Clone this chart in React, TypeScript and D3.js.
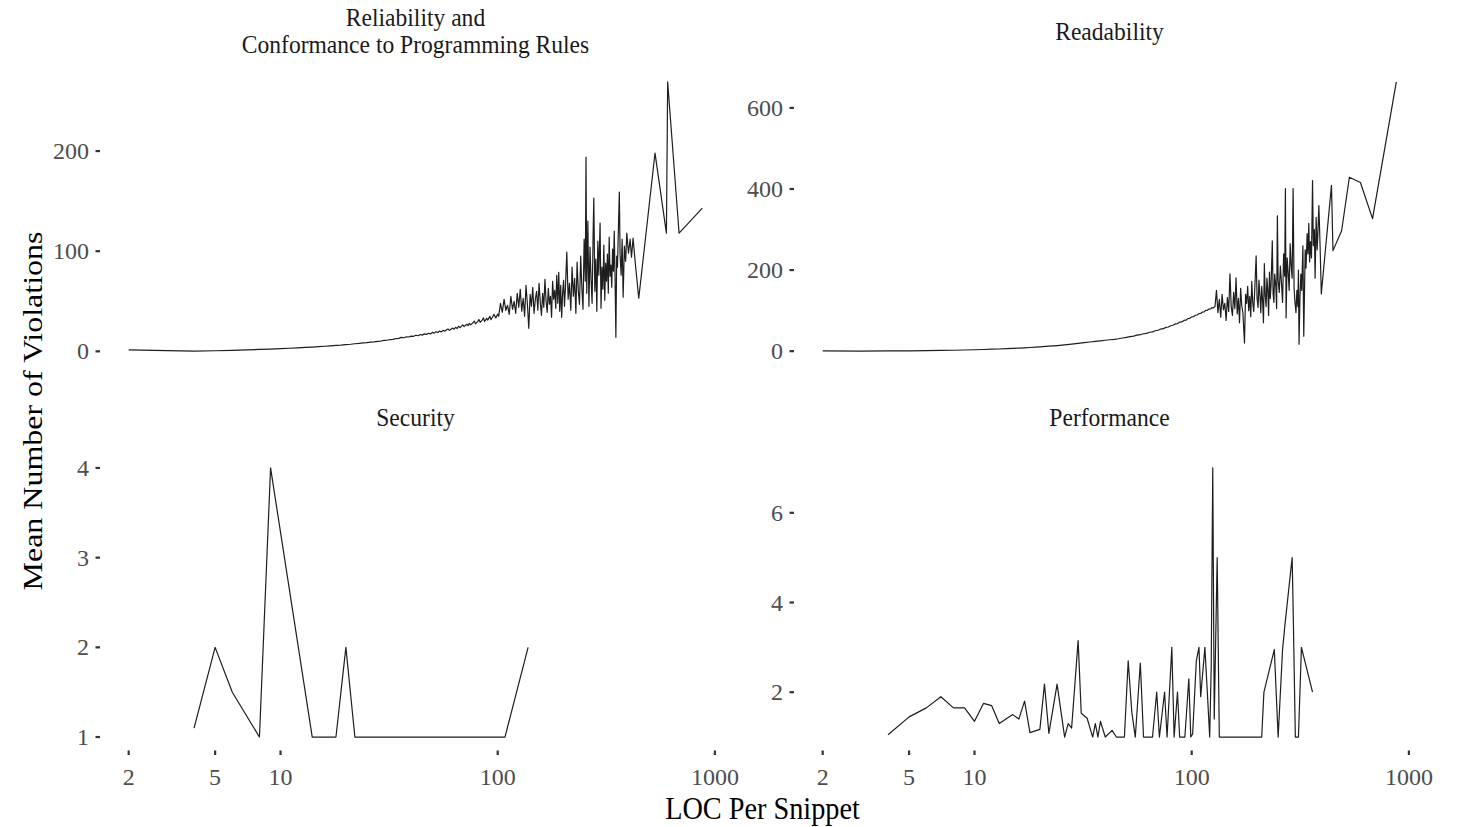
import React from 'react';
import * as d3 from 'd3';

const width = 1463,
  height = 827;

// tick labels
const xTicks = [2, 5, 10, 100, 1000];
const relTicks = [0, 100, 200];
const readTicks = [0, 200, 400, 600];
const secTicks = [1, 2, 3, 4];
const perfTicks = [2, 4, 6];

// [LOC per snippet, mean number of violations]
const reliability: [number, number][] = [
  [2, 1.5], [3, 0.8], [4, 0.3], [5, 0.6], [6, 1.0], [7, 1.5], [8, 1.9], [9, 2.3], [10, 2.7],
  [11, 3.1], [12, 3.5], [13, 3.9], [14, 4.3], [15, 4.7], [16, 5.1], [17, 5.5], [18, 5.9],
  [19, 6.3], [20, 6.8], [21, 7.1], [22, 7.6], [23, 7.9], [24, 8.4], [25, 8.7], [26, 9.2],
  [27, 9.5], [28, 10.0], [29, 10.3], [30, 10.9], [31, 11.1], [32, 11.8], [33, 12.0], [34, 12.8],
  [35, 12.9], [36, 13.9], [37, 13.6], [38, 14.6], [39, 14.3], [40, 15.2], [41, 15.0], [42, 16.1],
  [43, 15.6], [44, 16.8], [45, 16.2], [46, 17.5], [47, 16.9], [48, 18.1], [49, 17.4], [50, 18.9],
  [51, 18.2], [52, 19.6], [53, 18.8], [54, 20.3], [55, 19.4], [56, 21.0], [57, 20.1], [58, 21.4],
  [59, 22.3], [60, 21.0], [62, 23.2], [63, 22.1], [64, 24.0], [65, 22.8], [66, 25.1], [67, 23.6],
  [68, 25.0], [69, 26.4], [70, 24.7], [72, 27.1], [73, 25.6], [74, 28.0], [75, 26.4], [77, 28.6],
  [78, 30.2], [79, 27.5], [81, 30.0], [82, 31.8], [83, 28.9], [85, 31.5], [86, 33.4], [87, 29.8],
  [89, 33.0], [90, 31.2], [92, 35.0], [93, 31.6], [95, 34.8], [96, 37.0], [98, 33.4], [100, 37.2],
  [101, 35], [103, 48], [105, 39], [107, 52], [109, 41], [111, 46], [113, 37], [115, 55],
  [117, 42], [119, 50], [121, 38], [123, 58], [125, 44], [127, 62], [129, 40], [131, 53],
  [133, 35], [135, 66], [137, 47], [139, 23], [141, 57], [143, 45], [145, 64], [147, 38],
  [149, 52], [151, 60], [153, 41], [155, 68], [157, 49], [159, 36], [161, 58], [163, 44],
  [165, 72], [167, 50], [169, 39], [171, 63], [173, 47], [175, 55], [177, 34], [179, 70],
  [181, 52], [183, 61], [185, 43], [187, 76], [189, 48], [191, 79], [193, 40], [195, 66],
  [197, 34], [199, 58], [201, 71], [203, 45], [205, 63], [208, 99], [211, 52], [214, 68],
  [217, 41], [220, 84], [223, 55], [226, 73], [229, 38], [232, 89], [235, 60], [238, 47],
  [241, 95], [244, 64], [247, 42], [250, 112], [253, 70], [255, 194], [257, 58], [260, 130],
  [263, 45], [266, 104], [269, 72], [272, 48], [275, 118], [277, 153], [280, 60], [283, 92],
  [286, 40], [289, 110], [292, 76], [296, 128], [299, 43], [302, 84], [305, 62], [308, 106],
  [311, 51], [314, 88], [317, 70], [320, 97], [323, 58], [326, 114], [329, 75], [332, 86],
  [335, 64], [338, 102], [341, 80], [344, 120], [347, 72], [350, 14], [353, 95], [356, 84],
  [360, 128], [363, 159], [366, 96], [370, 76], [374, 112], [378, 54], [383, 105], [388, 90],
  [393, 118], [400, 98], [407, 112], [413, 94], [420, 113], [430, 88], [446, 53], [530, 198],
  [598, 118], [606, 269], [684, 118], [875, 143],
];

const readability: [number, number][] = [
  [2, 0.5], [3, 0.3], [4, 0.5], [5, 0.9], [6, 1.3], [7, 1.8], [8, 2.3], [9, 2.9], [10, 3.5],
  [11, 4.1], [12, 4.8], [13, 5.4], [14, 6.1], [15, 6.8], [16, 7.5], [17, 8.2], [18, 9.0],
  [19, 9.8], [20, 10.6], [22, 12.2], [24, 13.9], [26, 15.6], [28, 17.4], [30, 19.2], [32, 21.0],
  [34, 22.6], [36, 24.2], [38, 25.6], [40, 26.9], [42, 28.1], [44, 29.0], [46, 30.6], [48, 32.4],
  [50, 33.9], [52, 35.9], [54, 37.2], [56, 39.4], [58, 40.6], [60, 42.9], [62, 44.0], [64, 46.6],
  [66, 47.6], [68, 50.4], [70, 51.6], [72, 54.5], [74, 55.5], [76, 58.6], [78, 59.6], [80, 62.7],
  [82, 63.9], [84, 67.1], [86, 68.0], [88, 71.5], [90, 72.2], [92, 75.9], [94, 76.5], [96, 80.3],
  [98, 81.0], [100, 84.6], [102, 85.3], [104, 88.6], [106, 89.2], [108, 92.6], [110, 93.0],
  [112, 96.5], [114, 96.9], [116, 100.4], [118, 100.6], [120, 103.8], [122, 104.0], [124, 107.2],
  [126, 107.0], [128, 110.0], [130, 150], [132, 95], [134, 128], [136, 84], [138, 140],
  [140, 102], [142, 118], [144, 76], [146, 132], [148, 98], [150, 191], [152, 110], [154, 88],
  [156, 145], [158, 105], [160, 181], [162, 92], [164, 130], [166, 70], [168, 155], [170, 112],
  [172, 96], [175, 20], [177, 140], [179, 118], [181, 160], [183, 100], [185, 135], [187, 85],
  [189, 172], [191, 120], [193, 98], [195, 150], [198, 235], [200, 130], [202, 108], [204, 175],
  [206, 140], [208, 95], [210, 160], [212, 125], [214, 70], [216, 216], [218, 138], [220, 110],
  [222, 180], [224, 150], [226, 88], [228, 195], [230, 130], [232, 165], [235, 272], [237, 142],
  [239, 120], [241, 190], [244, 160], [246, 105], [248, 334], [250, 175], [253, 145], [256, 210],
  [259, 168], [262, 120], [265, 240], [268, 185], [270, 401], [272, 82], [275, 230], [278, 195],
  [281, 150], [284, 265], [287, 210], [290, 180], [293, 401], [296, 155], [299, 120], [302, 95],
  [305, 150], [308, 110], [310, 200], [312, 17], [315, 130], [318, 190], [321, 150], [325, 260],
  [328, 37], [330, 120], [333, 250], [336, 205], [340, 290], [343, 240], [346, 315], [349, 220],
  [352, 270], [356, 230], [360, 421], [363, 260], [367, 300], [370, 180], [374, 330], [378, 250],
  [381, 290], [385, 359], [390, 260], [395, 141], [440, 409], [447, 248], [490, 297], [532, 429],
  [598, 416], [680, 327], [875, 664],
];

const security: [number, number][] = [
  [4, 1.1], [5, 2], [6, 1.5], [8, 1], [9, 4], [14, 1], [18, 1], [20, 2], [22, 1], [108, 1], [138, 2],
];

const performance: [number, number][] = [
  [4, 1.05], [5, 1.45], [6, 1.65], [7, 1.9], [8, 1.65], [9, 1.65], [10, 1.35], [11, 1.75],
  [12, 1.7], [13, 1.3], [15, 1.5], [16, 1.4], [17, 1.8], [18, 1.1], [20, 1.17], [21, 2.18],
  [22, 1.08], [24, 2.18], [26, 1.0], [27, 1.3], [28, 1.2], [30, 3.15], [31, 1.53], [33, 1.42],
  [35, 1.0], [36, 1.3], [37, 1.0], [38, 1.35], [40, 1.0], [43, 1.15], [45, 1.0], [49, 1.0],
  [51, 2.7], [53, 1.55], [55, 1.0], [58, 2.65], [60, 1.0], [66, 1.0], [69, 2.0], [71, 1.0],
  [75, 2.0], [77, 1.0], [81, 3.0], [83, 1.0], [86, 2.0], [88, 1.0], [93, 1.0], [97, 2.3],
  [99, 1.0], [101, 1.07], [105, 2.7], [108, 3.0], [110, 1.9], [115, 3.0], [118, 2.0], [121, 1.0],
  [123, 2.6], [125, 7.0], [127, 1.4], [131, 5.0], [134, 1.0], [210, 1.0], [215, 2.0], [240, 2.95],
  [250, 1.0], [262, 2.95], [268, 3.45], [290, 5.0], [293, 3.9], [300, 1.0], [310, 1.0], [320, 3.0],
  [360, 2.0],
];

const panels = [
  { title: ['Reliability and', 'Conformance to Programming Rules'], data: reliability, ticks: relTicks, col: 0, row: 0 },
  { title: ['Readability'], data: readability, ticks: readTicks, col: 1, row: 0 },
  { title: ['Security'], data: security, ticks: secTicks, col: 0, row: 1 },
  { title: ['Performance'], data: performance, ticks: perfTicks, col: 1, row: 1 },
];

const colLeft = [100, 794],
  panelW = 631,
  rowTop = [68.5, 454.5],
  panelH = 296;

const font = '"Liberation Serif", "Times New Roman", serif';

// ggplot-like 5% expansion on the log scale, shared across facets
const allLoc = panels.flatMap(p => p.data.map(d => Math.log10(d[0])));
const [lmin, lmax] = d3.extent(allLoc) as [number, number];
const lpad = (lmax - lmin) * 0.05;
const xDomain = [10 ** (lmin - lpad), 10 ** (lmax + lpad)];

function Panel({ p }: { p: typeof panels[number] }) {
  const left = colLeft[p.col], top = rowTop[p.row];
  const x = d3.scaleLog().domain(xDomain).range([left, left + panelW]);
  const [vmin, vmax] = d3.extent(p.data, d => d[1]) as [number, number];
  const pad = (vmax - vmin) * 0.05;
  const y = d3.scaleLinear().domain([vmin - pad, vmax + pad]).range([top + panelH, top]);
  const line = d3.line<[number, number]>()
    .x(d => x(d[0]))
    .y(d => y(d[1]));
  const bottom = top + panelH;
  const cx = left + panelW / 2;
  const titleBase = p.title.length > 1 ? top - 42.5 : top - 28.5;

  return (
    <g>
      {p.title.map((t, i) => (
        <text key={t} transform={`translate(${cx},${titleBase + i * 27}) scale(0.97,1.04)`}
              textAnchor="middle" fontFamily={font} fontSize={24.3} fill="#1a1a1a">{t}</text>
      ))}
      <path d={line(p.data) || ''} fill="none" stroke="#1e1e1e" strokeWidth={1.2} strokeLinejoin="round" />
      {p.ticks.map(t => (
        <g key={t}>
          <line x1={left - 4.5} x2={left} y1={y(t)} y2={y(t)} stroke="#333" strokeWidth={2.2} />
          <text x={left - 11} y={y(t) + 8} textAnchor="end"
                fontFamily={font} fontSize={24} fill="#4d4d4d">{t}</text>
        </g>
      ))}
      {p.row === 1 && xTicks.map(t => (
        <g key={t}>
          <line x1={x(t)} x2={x(t)} y1={bottom} y2={bottom + 4.5} stroke="#333" strokeWidth={2.2} />
          <text x={x(t)} y={bottom + 34.5} textAnchor="middle"
                fontFamily={font} fontSize={24} fill="#4d4d4d">{t}</text>
        </g>
      ))}
    </g>
  );
}

export default function App() {
  return (
    <svg width={width} height={height} style={{ position: 'absolute', left: 0, top: 0, background: '#fff' }}>
      <rect width={width} height={height} fill="#fff" />
      {panels.map(p => <Panel key={p.title.join(' ')} p={p} />)}
      <text transform={`translate(${(colLeft[0] + colLeft[1] + panelW) / 2},818.5) scale(0.87,1)`}
            textAnchor="middle" fontFamily={font} fontSize={32.5} fill="#000">LOC Per Snippet</text>
      <text transform="translate(42,411) rotate(-90) scale(1,0.88)" textAnchor="middle"
            fontFamily={font} fontSize={32} fill="#000">Mean Number of Violations</text>
    </svg>
  );
}
